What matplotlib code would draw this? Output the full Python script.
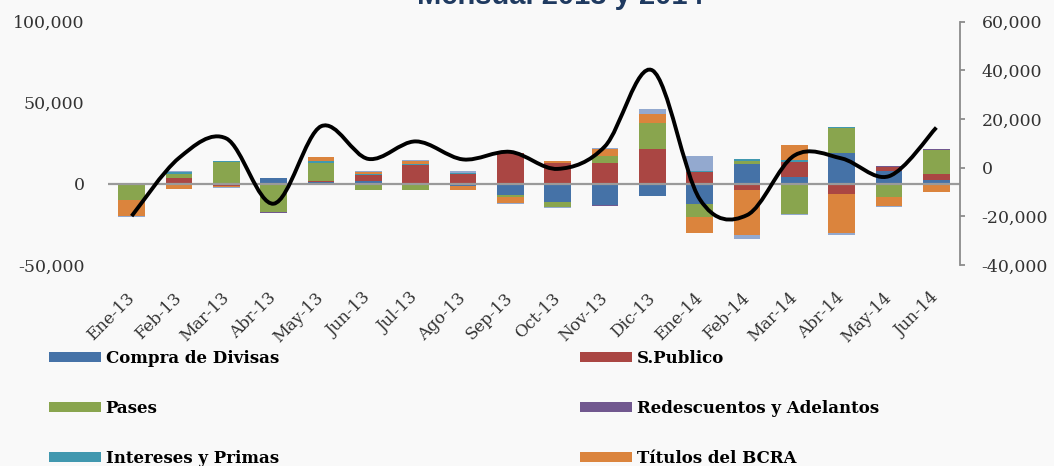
import matplotlib
matplotlib.use('Agg')
import matplotlib.pyplot as plt
import numpy as np
from matplotlib.path import Path
from matplotlib.patches import PathPatch
from matplotlib.ticker import FuncFormatter

plt.rcParams['font.family'] = ['DejaVu Serif']

# data (millones de pesos)
months = ['Ene-13', 'Feb-13', 'Mar-13', 'Abr-13', 'May-13', 'Jun-13', 'Jul-13', 'Ago-13', 'Sep-13',
          'Oct-13', 'Nov-13', 'Dic-13', 'Ene-14', 'Feb-14', 'Mar-14', 'Abr-14', 'May-14', 'Jun-14']

compra = [600, 0, -700, 3500, 1000, 2000, 0, -1200, -6600, -11300, -12900, -7200, -12300, 12300, 4100, 18900, 8000, 2400]
spublico = [0, 3500, -600, 0, 900, 3500, 11500, 5800, 19000, 12900, 13150, 21400, 7600, -3700, 9650, -6400, 2250, 3700]
pases = [-9900, 2700, 13400, -17400, 11000, -3900, -3900, 0, -1200, -2900, 4100, 16000, -8200, 1850, -18700, 15800, -8000, 14800]
redescuentos = [0, 0, 0, -600, 0, 0, 0, 0, 0, 0, -600, 0, 0, 0, 0, 0, 800, 600]
intereses = [0, 1000, 1000, 0, 1200, 800, 1000, 1200, 0, 0, 0, 0, 400, 1200, 1000, 600, 0, 0]
titulos = [-10000, -3300, -900, 0, 2200, 1200, 1800, -2300, -3700, 1000, 4300, 5750, -9850, -28000, 9250, -24050, -5550, -4700]
otros = [-500, 600, -300, 0, 0, 600, 400, 800, -600, -700, 500, 3100, 9250, -2250, -600, -1200, -600, -600]

# variacion total (eje derecho)
total = [-19900, 4000, 12000, -14800, 17000, 3600, 10800, 3400, 6500, -500, 8800, 40000,
         -12900, -19500, 5000, 3800, -3500, 16500]

series = [
    (compra, 'Compra de Divisas', '#4572A7'),
    (spublico, 'S.Publico', '#AA4643'),
    (pases, 'Pases', '#89A54E'),
    (redescuentos, 'Redescuentos y Adelantos', '#71588F'),
    (intereses, 'Intereses y Primas', '#4198AF'),
    (titulos, 'Títulos del BCRA', '#DB843D'),
    (otros, 'Otros', '#93A9CF'),
]

fig = plt.figure(figsize=(10.54, 4.66), dpi=100, facecolor='#f9f9f9')
ax = fig.add_axes([108 / 1054, 1 - 265 / 466, 852 / 1054, 243.3 / 466])
ax.patch.set_visible(False)

x = np.arange(len(months))
pos_base = np.zeros(len(months))
neg_base = np.zeros(len(months))
bars = {}
for vals, name, col in series:
    v = np.array(vals, dtype=float)
    bottom = np.where(v >= 0, pos_base, neg_base)
    bars[name] = ax.bar(x, v, width=0.56, bottom=bottom, color=col, label=name, zorder=2)
    pos_base += np.clip(v, 0, None)
    neg_base += np.clip(v, None, 0)

ax.axhline(0, color='#9a9a9a', lw=1.6, zorder=3)
ax.set_xlim(-0.5, len(months) - 0.5)
ax.set_ylim(-50000, 100000)
ax.set_yticks([-50000, 0, 50000, 100000])
ax.yaxis.set_major_formatter(FuncFormatter(lambda v, p: f'{v:,.0f}'))
ax.tick_params(axis='y', length=0, pad=17, labelsize=12.5, labelcolor='#333333')
for s in ax.spines.values():
    s.set_visible(False)
ax.set_xticks(x)
ax.set_xticklabels(months, rotation=45, ha='right', va='center', rotation_mode='anchor')
ax.tick_params(axis='x', length=0, pad=22, labelsize=12, labelcolor='#333333')

# eje derecho con la linea suavizada
ax2 = ax.twinx()
ax2.set_ylim(-40000, 60000)
ax2.set_yticks(np.arange(-40000, 60001, 20000))
ax2.yaxis.set_major_formatter(FuncFormatter(lambda v, p: f'{v:,.0f}'))
for k, s in ax2.spines.items():
    s.set_visible(k == 'right')
ax2.spines['right'].set_color('#8c8c8c')
ax2.spines['right'].set_linewidth(1.3)
ax2.tick_params(axis='y', direction='out', length=3.5, width=1.3, color='#8c8c8c',
                pad=12, labelsize=12.5, labelcolor='#333333')

pts = np.column_stack([x, total]).astype(float)
n = len(pts)
verts = [pts[0]]
codes = [Path.MOVETO]
for i in range(n - 1):
    p0 = pts[max(i - 1, 0)]
    p1 = pts[i]
    p2 = pts[i + 1]
    p3 = pts[min(i + 2, n - 1)]
    verts += [p1 + (p2 - p0) / 6, p2 - (p3 - p1) / 6, p2]
    codes += [Path.CURVE4] * 3
ax2.add_patch(PathPatch(Path(verts, codes), fill=False, lw=2.8, edgecolor='black',
                        capstyle='butt', zorder=4))

# titulo (cortado arriba, como en el original)
fig.text(560 / 1054, 1 - 4 / 466, 'Mensual 2013 y 2014', ha='center', va='baseline',
         fontsize=21, fontweight='bold', color='#1F3A60', family='Liberation Sans')

leg_font = {'family': 'DejaVu Serif', 'weight': 'bold', 'size': 12}
leg_opts = dict(loc='upper left', frameon=False, borderpad=0, borderaxespad=0,
                handlelength=3.1, handleheight=0.6, handletextpad=0.3,
                labelspacing=1.98, prop=leg_font)
col1 = ['Compra de Divisas', 'Pases', 'Intereses y Primas']
col2 = ['S.Publico', 'Redescuentos y Adelantos', 'Títulos del BCRA']
fig.legend([bars[k] for k in col1], col1, bbox_to_anchor=(49 / 1054, 1 - 350 / 466), **leg_opts)
fig.legend([bars[k] for k in col2], col2, bbox_to_anchor=(580 / 1054, 1 - 350 / 466), **leg_opts)

fig.savefig('out.png', dpi=100, facecolor=fig.get_facecolor())
